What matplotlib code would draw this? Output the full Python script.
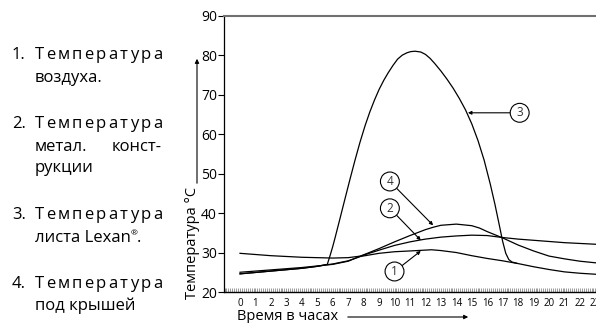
import matplotlib.pyplot as plt
from matplotlib.patches import FancyArrowPatch
from matplotlib.ticker import MultipleLocator

plt.rcParams['font.family'] = ['Open Sans', 'DejaVu Sans']

# 1 - air temperature
hours_air = [0, 1, 2, 3, 4, 5, 5.6, 6, 7, 7.8, 9, 10, 11, 11.7, 12.4, 13, 14, 15,
             16, 17, 18, 19, 20, 21, 22, 23]
temp_air = [24.6, 24.95, 25.3, 25.65, 26.0, 26.5, 26.9, 27.1, 27.9, 29.0, 29.8, 30.2,
            30.4, 30.55, 30.7, 30.5, 30.0, 29.2, 28.5, 27.9, 27.2, 26.4, 25.7, 25.1,
            24.75, 24.5]

# 2 - metal frame
hours_metal = [0, 1, 2, 3, 4, 5, 6, 7, 7.8, 9, 10, 11, 11.7, 12, 13, 14, 15, 16, 17,
               18, 19, 20, 21, 22, 23]
temp_metal = [29.8, 29.5, 29.2, 29.0, 28.8, 28.7, 28.6, 28.7, 29.1, 30.6, 31.8, 32.7,
              33.2, 33.4, 33.9, 34.2, 34.4, 34.3, 33.8, 33.4, 33.1, 32.8, 32.5, 32.3,
              32.1]

# 3 - Lexan sheet
hours_lexan = [0, 1, 2, 3, 4, 5, 5.65, 5.85, 6.0, 6.15, 6.47, 6.8, 7.12, 7.45, 7.77,
               8.1, 8.4, 8.7, 9.0, 9.3, 9.6, 9.9, 10.2, 10.5, 10.8, 11.05, 11.33, 11.7,
               12.0, 12.3, 12.6, 13.0, 13.4, 13.8, 14.2, 14.6, 15.0, 15.4, 15.8, 16.2,
               16.5, 16.8, 17.0, 17.2, 17.4, 17.6, 17.9]
temp_lexan = [24.6, 24.95, 25.3, 25.65, 26.0, 26.5, 27.0, 29.5, 31.5, 33.7, 38.6, 43.7,
              48.6, 53.5, 58.0, 62.2, 65.6, 68.6, 71.3, 73.6, 75.6, 77.4, 79.0, 80.0,
              80.6, 80.9, 81.0, 80.8, 80.2, 79.2, 77.9, 76.0, 73.9, 71.6, 69.0, 66.1,
              62.6, 58.4, 53.4, 47.3, 42.2, 36.6, 32.8, 29.8, 28.2, 27.6, 27.3]

# 4 - under the roof
hours_roof = [0, 1, 2, 3, 4, 5, 6, 7, 7.8, 9, 10, 11, 12, 12.5, 13, 14, 15, 15.5, 16,
              17, 18, 19, 20, 21, 22, 23]
temp_roof = [25.0, 25.3, 25.6, 25.9, 26.2, 26.6, 27.0, 27.8, 29.1, 31.0, 32.7, 34.3,
             35.8, 36.4, 36.9, 37.2, 36.8, 36.2, 35.3, 33.7, 31.9, 30.4, 29.1, 28.4,
             27.8, 27.4]

x_ticks = list(range(24))
y_ticks = [20, 30, 40, 50, 60, 70, 80, 90]

legend_nums = ['1.', '2.', '3.', '4.']
legend_first = 'Температура'

W, H = 596, 323
fig = plt.figure(figsize=(W / 100, H / 100), dpi=100)


def px(x, y):
    return x / W, 1 - y / H


ax = fig.add_axes([224 / W, 1 - 292 / H, (W - 224) / W, (292 - 15.7) / H])

for hx, ty in [(hours_air, temp_air), (hours_metal, temp_metal),
               (hours_lexan, temp_lexan), (hours_roof, temp_roof)]:
    ax.plot(hx, ty, color='black', lw=0.9, solid_joinstyle='round')

ax.set_xlim(-1.036, 23.04)
ax.set_ylim(20, 90)
ax.set_yticks(y_ticks)
ax.set_xticks(x_ticks)
ax.xaxis.set_minor_locator(MultipleLocator(0.125))
ax.tick_params(axis='y', direction='out', length=4, width=0.8, labelsize=10, pad=1)
ax.tick_params(axis='x', which='both', direction='in', length=3, width=0.6,
               color='#8a8a8a', labelsize=7, pad=4)
ax.spines['right'].set_visible(False)
ax.spines['top'].set_color('#707070')
ax.spines['top'].set_linewidth(1.5)
ax.spines['left'].set_linewidth(0.9)
ax.spines['bottom'].set_linewidth(1.0)

# circled numbers with arrows
notes = [('1', (11.7, 30.4), (10.0, 25.2)),
         ('2', (11.7, 33.1), (9.7, 41.2)),
         ('3', (14.75, 65.4), (18.1, 65.4)),
         ('4', (12.5, 36.9), (9.7, 48.0))]
for lab, tip, c in notes:
    ax.annotate(lab, xy=tip, xytext=c, fontsize=8.5, ha='center', va='center',
                color='#333333',
                bbox=dict(boxstyle='circle,pad=0.25', fc='white', ec='black', lw=0.8),
                arrowprops=dict(arrowstyle='-|>', lw=0.8, color='black',
                                mutation_scale=5, shrinkA=0, shrinkB=0))

# axis titles with arrows
fig.text(*px(193, 299), 'Температура °C', rotation=90, ha='center', va='bottom',
         fontsize=10.5)
fig.add_artist(FancyArrowPatch(px(197, 186), px(197, 56), transform=fig.transFigure,
                               arrowstyle='-|>', mutation_scale=6, lw=0.8, color='black'))
fig.text(*px(237, 320), 'Время в часах', fontsize=10.5, va='baseline')
fig.add_artist(FancyArrowPatch(px(345, 317), px(471, 317), transform=fig.transFigure,
                               arrowstyle='-|>', mutation_scale=6, lw=0.8, color='black'))

# left side list
r = fig.canvas.get_renderer()
fs = 12


def width(s, size=fs):
    t = fig.text(0, 0, s, fontsize=size)
    w = t.get_window_extent(r).width
    t.remove()
    return w


def spread(s, x0, x1, y):
    ws = [width(ch) for ch in s]
    gap = ((x1 - x0) - sum(ws)) / (len(s) - 1)
    x = x0
    for ch, w in zip(s, ws):
        fig.text(*px(x, y), ch, fontsize=fs, va='baseline')
        x += w + gap


base = [59.3, 128.3, 219.3, 288.3]
for num, y in zip(legend_nums, base):
    fig.text(*px(12, y), num, fontsize=fs, va='baseline')
    spread(legend_first, 35, 162, y)

fig.text(*px(35, 81.7), 'воздуха.', fontsize=fs, va='baseline')
fig.text(*px(35, 150.7), 'метал.', fontsize=fs, va='baseline')
fig.text(*px(162, 150.7), 'конст-', fontsize=fs, va='baseline', ha='right')
fig.text(*px(35, 172.5), 'рукции', fontsize=fs, va='baseline')
w1 = width('листа Lexan')
fig.text(*px(35, 241.7), 'листа Lexan', fontsize=fs, va='baseline')
fig.text(*px(35 + w1, 235), '®', fontsize=6, va='baseline')
fig.text(*px(35 + w1 + 6, 241.7), '.', fontsize=fs, va='baseline')
fig.text(*px(35, 310.5), 'под крышей', fontsize=fs, va='baseline')

fig.savefig('out.png', dpi=100)
